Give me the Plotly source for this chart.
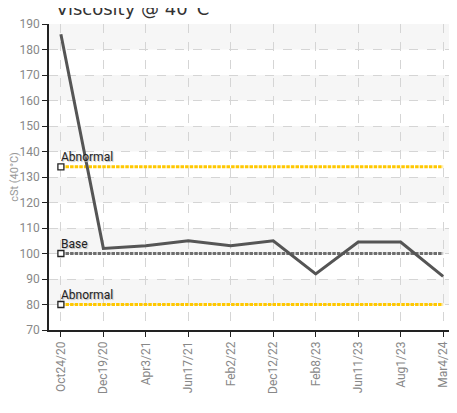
import plotly.graph_objects as go

dates = ["Oct24/20", "Dec19/20", "Apr3/21", "Jun17/21", "Feb2/22", "Dec12/22",
         "Feb8/23", "Jun11/23", "Aug1/23", "Mar4/24"]
viscosity = [186, 102, 103, 105, 103, 105, 92, 104.5, 104.5, 91]
abnormal_high = 134
base = 100
abnormal_low = 80
y_ticks = list(range(70, 191, 10))

FONT = "Liberation Sans Narrow, Arial Narrow, Roboto, sans-serif"

fig = go.Figure()

# alternating bands
shapes = []
for lo in range(80, 190, 20):
    shapes.append(dict(type="rect", xref="paper", yref="y", x0=0, x1=1, y0=lo, y1=lo + 10,
                       fillcolor="#f6f6f6", line_width=0, layer="below"))

ref_lines = [(abnormal_high, "#ffc800", "Abnormal"), (base, "#6e6e6e", "Base"),
             (abnormal_low, "#ffc800", "Abnormal")]
for val, col, lab in ref_lines:
    fig.add_trace(go.Scatter(x=dates, y=[val] * len(dates), mode="lines",
                             line=dict(color=col, width=3, dash="3.5px,1.1px"),
                             hoverinfo="skip", showlegend=False))

fig.add_trace(go.Scatter(x=dates, y=viscosity, mode="lines",
                         line=dict(color="#555555", width=3),
                         showlegend=False))

for val, col, lab in ref_lines:
    fig.add_trace(go.Scatter(x=[dates[0]], y=[val], mode="markers",
                             marker=dict(symbol="square", size=6, color="white",
                                         line=dict(color="#222222", width=1.3)),
                             hoverinfo="skip", showlegend=False))
    fig.add_annotation(x=dates[0], y=val, xref="x", yref="y", text=lab,
                       showarrow=False, xanchor="left", yanchor="bottom",
                       xshift=-2, yshift=1,
                       font=dict(family=FONT, size=12, color="#222222",
                                 shadow="1px 1px 1px #bbbbbb"))

fig.add_annotation(text="Viscosity @ 40°C", xref="paper", yref="paper", x=0, y=1,
                   xanchor="left", yanchor="middle", xshift=5, yshift=16,
                   showarrow=False,
                   font=dict(family="DejaVu Sans, sans-serif", size=18, color="#333333"))

fig.update_layout(
    width=449, height=405,
    margin=dict(l=41, r=2, t=16, b=83),
    paper_bgcolor="white", plot_bgcolor="white",
    shapes=shapes,
    xaxis=dict(type="category", range=[-0.28, len(dates) - 1 + 0.28], automargin=False,
               showline=True, linecolor="#222222", linewidth=1.5,
               ticks="outside", ticklen=5, tickcolor="#222222",
               tickangle=-90, showgrid=True, gridcolor="#d5d5d5", griddash="dash",
               tickfont=dict(family=FONT, size=12, color="#888888"), zeroline=False),
    yaxis=dict(range=[70, 190], tickvals=y_ticks, automargin=False,
               showline=True, linecolor="#222222", linewidth=1.5,
               ticks="outside", ticklen=5, tickcolor="#222222",
               showgrid=True, gridcolor="#d5d5d5", griddash="dash", zeroline=False,
               tickfont=dict(family=FONT, size=12, color="#888888"),
               title=dict(text="cSt (40°C)", standoff=2,
                          font=dict(family=FONT, size=11, color="#999999"))),
)

fig.write_html("out.html")
